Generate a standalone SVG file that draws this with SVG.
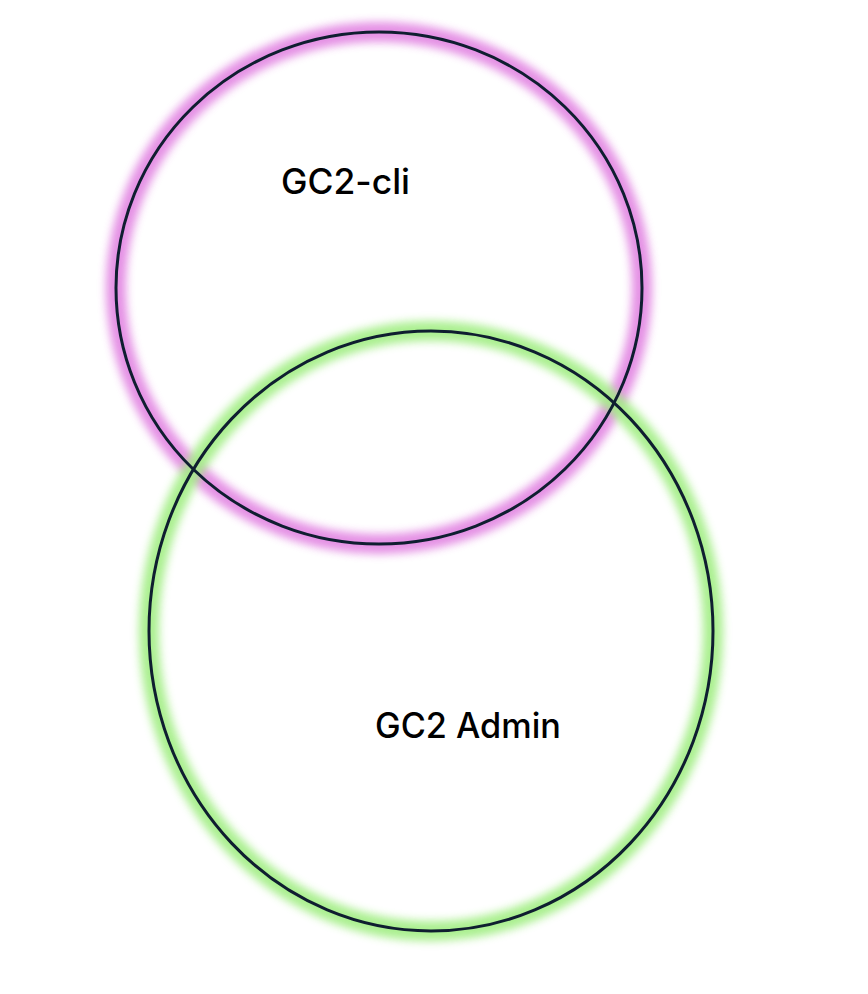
<svg xmlns="http://www.w3.org/2000/svg" width="868" height="994" viewBox="0 0 868 994">
<defs>
<filter id="glow" x="-20%" y="-20%" width="140%" height="140%"><feGaussianBlur stdDeviation="4.5"/></filter>
<style>
.glow{fill:none;stroke-width:20;filter:url(#glow);opacity:0.9}
.ring{fill:none;stroke:#0f1e30;stroke-width:3}
.lbl{font-family:Inter,"Liberation Sans",sans-serif;font-size:35px;font-weight:500;fill:#000}
</style>
</defs>
<rect width="868" height="994" fill="#fff"/>
<g id="glows">
<ellipse class="glow" cx="379" cy="288" rx="263" ry="256" stroke="#e285e2"/>
<ellipse class="glow" cx="431" cy="631" rx="282" ry="300" stroke="#a2ee84"/>
</g>
<g id="gc2-cli">
<ellipse class="ring" cx="379" cy="288" rx="263" ry="256"/>
<text class="lbl" x="281" y="194" textLength="129" lengthAdjust="spacingAndGlyphs">GC2-cli</text>
</g>
<g id="gc2-admin">
<ellipse class="ring" cx="431" cy="631" rx="282" ry="300"/>
<text class="lbl" x="375" y="738" textLength="186" lengthAdjust="spacingAndGlyphs">GC2 Admin</text>
</g>
<g id="connectors"></g>
</svg>
